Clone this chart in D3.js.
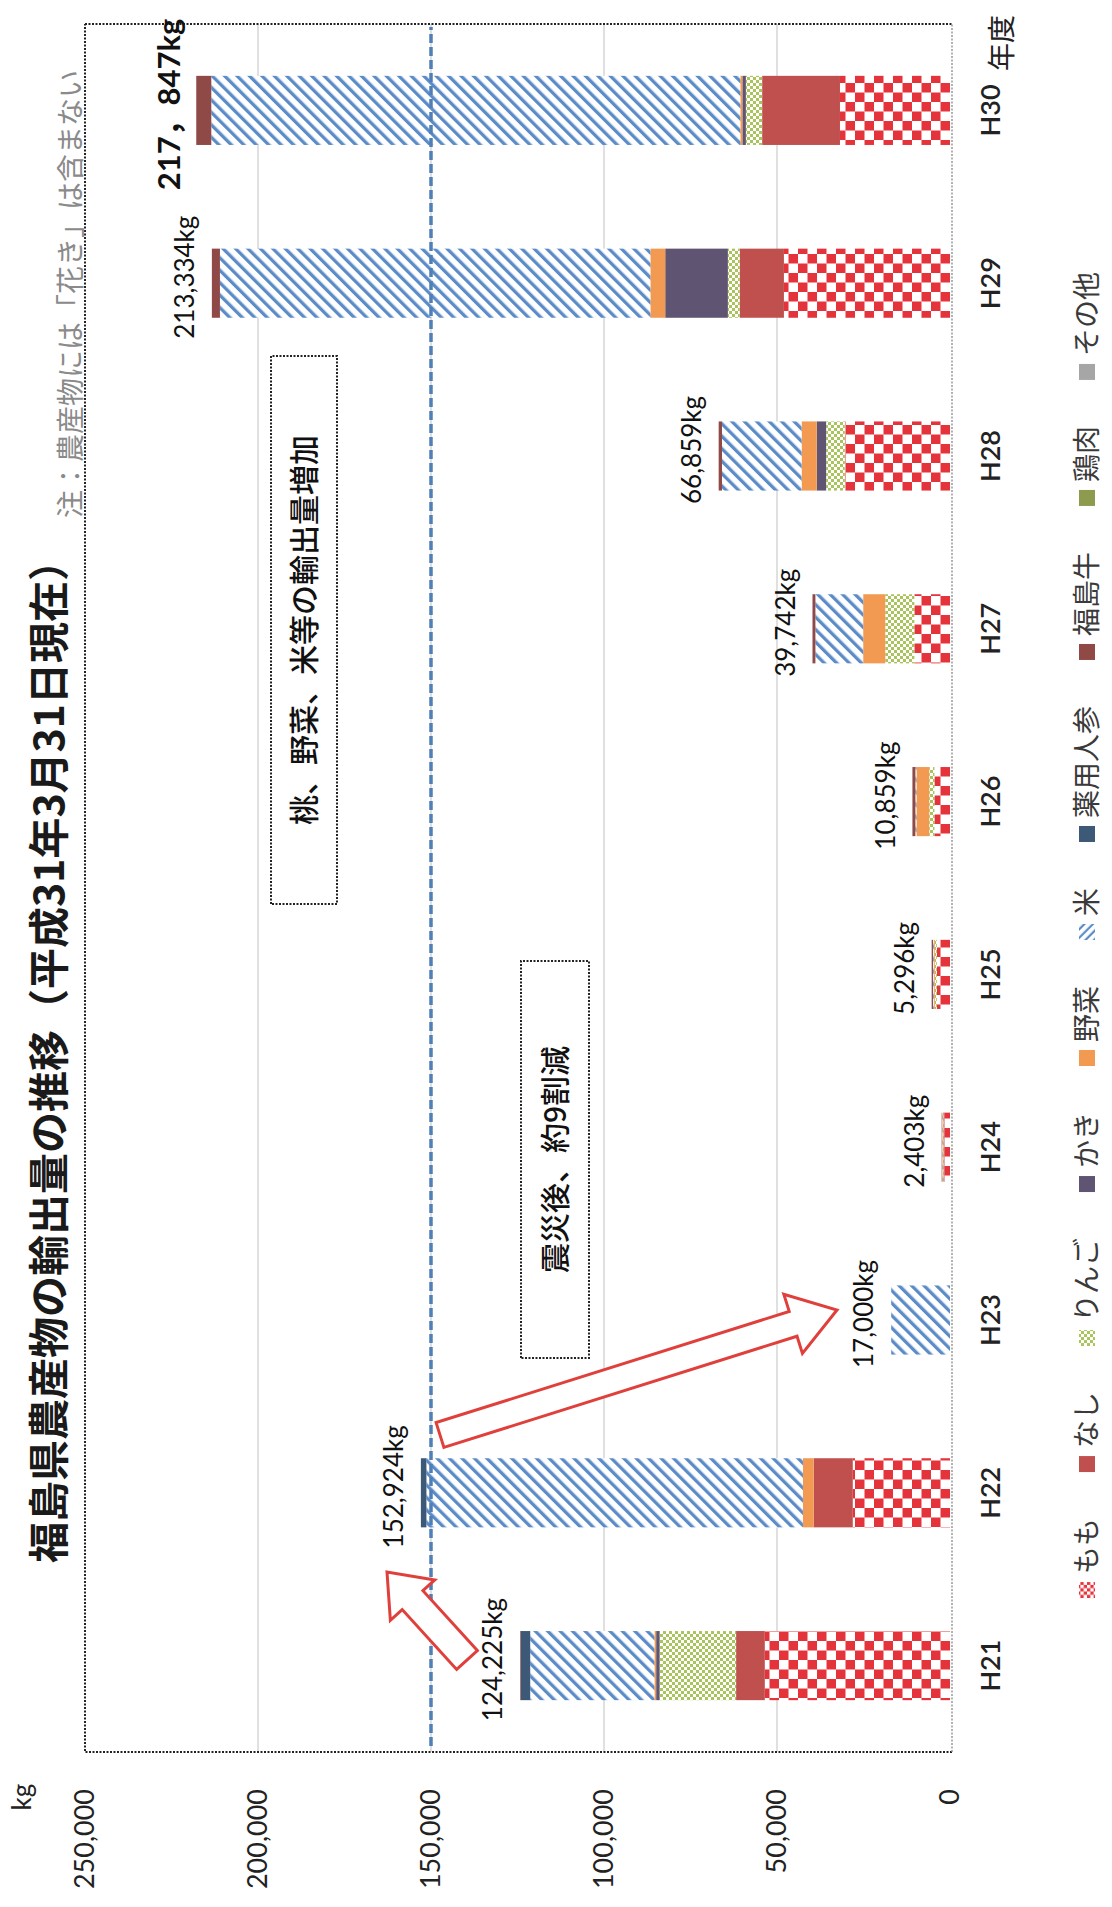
<!DOCTYPE html>
<html><head><meta charset="utf-8">
<script src="https://cdn.jsdelivr.net/npm/d3@7"></script>
<style>body{margin:0;background:#fff}svg{display:block}</style>
</head><body>
<svg id="c" width="1112" height="1907"></svg>
<script>
// ---- data ----
const years = ["H21","H22","H23","H24","H25","H26","H27","H28","H29","H30"];
const seriesNames = ["もも","なし","りんご","かき","野菜","米","薬用人参","福島牛","鶏肉","その他"];
const momo   = [53525, 28100,     0, 1600, 3800, 4500, 10300, 30400,  48000,  31800];
const nashi  = [ 8300, 11300,     0,  300,    0,    0,     0,     0,  12800,  22500];
const ringo  = [22100,     0,     0,  100,  600, 1500,  8400,  5400,   3400,   4700];
const kaki   = [ 1000,     0,     0,    0,    0,    0,     0,  2700,  18100,   1000];
const yasai  = [  500,  3100,     0,  200,  300, 3700,  6400,  4400,   4300,    600];
const kome   = [35900,108824, 17000,  100,  200,  300, 13800, 23000, 124400, 152900];
const ninjin = [ 2700,  1600,     0,    0,    0,    0,     0,     0,      0,      0];
const gyu    = [  200,     0,     0,  103,  396,  859,   842,   959,   2334,   4347];
const tori   = [    0,     0,     0,    0,    0,    0,     0,     0,      0,      0];
const sonota = [    0,     0,     0,    0,    0,    0,     0,     0,      0,      0];
const totalLabels = ["124,225kg","152,924kg","17,000kg","2,403kg","5,296kg","10,859kg","39,742kg","66,859kg","213,334kg","217，847kg"];
const valueTicks = [0, 50000, 100000, 150000, 200000, 250000];
const refValue = 150000;
const titleText = "福島県農産物の輸出量の推移（平成31年3月31日現在）";
const noteText = "注：農産物には「花き」は含まない";
const note1 = "桃、野菜、米等の輸出量増加";
const note2 = "震災後、約9割減";

const seriesValues = [momo,nashi,ringo,kaki,yasai,kome,ninjin,gyu,tori,sonota];
const rows = years.map((yr,i)=>{const o={year:yr}; seriesNames.forEach((s,k)=>o[s]=seriesValues[k][i]); return o;});

// ---- layout (drawn landscape, rotated -90deg onto the portrait page) ----
const W = 1907, H = 1112;
const svg = d3.select("#c");
const defs = svg.append("defs");
const g = svg.append("g").attr("transform",`translate(0,${W}) rotate(-90)`);

function checker(id, cell, color){
  const p = defs.append("pattern").attr("id",id).attr("patternUnits","userSpaceOnUse").attr("width",cell*2).attr("height",cell*2);
  p.append("rect").attr("width",cell*2).attr("height",cell*2).attr("fill","#fff");
  p.append("rect").attr("width",cell).attr("height",cell).attr("fill",color);
  p.append("rect").attr("x",cell).attr("y",cell).attr("width",cell).attr("height",cell).attr("fill",color);
}
function stripes(id, period, w, color, angle){
  const p = defs.append("pattern").attr("id",id).attr("patternUnits","userSpaceOnUse").attr("width",period).attr("height",period).attr("patternTransform",`rotate(${angle})`);
  p.append("rect").attr("width",period).attr("height",period).attr("fill","#fff");
  p.append("rect").attr("width",w).attr("height",period).attr("fill",color);
}
checker("pMomo", 9.5, "#e5333b");
checker("pMomoLeg", 3.3, "#e5333b");
checker("pRingo", 3, "#a9c45c");
stripes("pKome", 8.8, 3.3, "#5b8cc8", 45);
stripes("pKomeLeg", 6, 2.2, "#5b8cc8", -45);

const fills = ["url(#pMomo)","#c0504d","url(#pRingo)","#5f5472","#f39a52","url(#pKome)","#3c5a78","#8f4a47","#8d9b4f","#a6a6a6"];
const legFills = ["url(#pMomoLeg)","#c0504d","url(#pRingo)","#5f5472","#f39a52","url(#pKomeLeg)","#3c5a78","#8f4a47","#8d9b4f","#a6a6a6"];

const x0 = 155, x1 = 1883;
const x = d3.scaleBand().domain(years).range([x0,x1]).paddingInner(0.6).paddingOuter(0.3);
const y = d3.scaleLinear().domain([0,250000]).range([950,85]);
const num = "Lato, 'Noto Sans CJK JP', sans-serif";
const jp = "'Noto Sans CJK JP', sans-serif";

// gridlines
g.append("g").selectAll("line").data(valueTicks.filter(v=>v>0 && v<250000)).join("line")
  .attr("x1",x0).attr("x2",x1).attr("y1",d=>y(d)).attr("y2",d=>y(d))
  .attr("stroke","#d6d6d6").attr("stroke-width",1.5);

// stacked bars
const stack = d3.stack().keys(seriesNames)(rows);
g.append("g").selectAll("g").data(stack).join("g").attr("fill",(d,i)=>fills[i])
  .selectAll("rect").data(d=>d).join("rect")
  .attr("x",d=>x(d.data.year)).attr("width",x.bandwidth())
  .attr("y",d=>y(d[1])).attr("height",d=>Math.max(0,y(d[0])-y(d[1])));

// reference dashed line
g.append("line").attr("x1",x0+6).attr("x2",x1-3).attr("y1",y(refValue)).attr("y2",y(refValue))
  .attr("stroke","#4f7fb6").attr("stroke-width",3.5).attr("stroke-dasharray","9,4");

// frame
const fr = g.append("g").attr("fill","none").attr("stroke-width",2);
fr.append("path").attr("d",`M${x0},952 V${y(250000)} H${x1}`).attr("stroke","#222").attr("stroke-dasharray","2,1.5");
fr.append("path").attr("d",`M${x1},${y(250000)} V952`).attr("stroke","#222").attr("stroke-dasharray","2,1.5");
fr.append("path").attr("d",`M${x0},952 H${x1}`).attr("stroke","#999").attr("stroke-dasharray","2,1.5").attr("stroke-width",1.5);

// value axis
const ya = g.append("g").attr("transform","translate(118,0)")
  .call(d3.axisLeft(y).tickValues(valueTicks).tickFormat(d3.format(",")).tickSize(0).tickPadding(0));
ya.select(".domain").remove();
ya.selectAll("text").attr("font-family",num).attr("font-size",27).attr("fill","#222");
g.append("text").attr("x",110).attr("y",22).attr("dy","0.35em").attr("text-anchor","middle")
  .attr("font-family",num).attr("font-size",26).attr("fill","#222").text("kg");

// category axis
const xa = g.append("g").attr("transform","translate(0,990)")
  .call(d3.axisBottom(x).tickSize(0).tickPadding(0));
xa.select(".domain").remove();
xa.selectAll("text").attr("y",0).attr("dy","0.36em").attr("font-family",num).attr("font-size",27).attr("font-weight",600).attr("fill","#222");
g.append("text").attr("x",1864).attr("y",1001).attr("dy","0.38em").attr("text-anchor","middle")
  .attr("font-family",jp).attr("font-size",28).attr("fill","#222").text("年度");

// total labels
const totals = rows.map(r=>d3.sum(seriesNames,s=>r[s]));
g.append("g").selectAll("text").data(years).join("text")
  .attr("x",d=>x(d)+x.bandwidth()/2+6).attr("y",(d,i)=>y(totals[i])-27).attr("dy","0.35em")
  .attr("text-anchor","middle").attr("font-family",num)
  .attr("font-size",(d,i)=>i===9?31:26).attr("font-weight",(d,i)=>i===9?700:400).attr("fill","#111")
  .text((d,i)=>totalLabels[i]);

// title & note
g.append("text").attr("x",344).attr("y",64).attr("font-family",jp).attr("font-size",41).attr("font-weight",700).attr("fill","#1a1a1a").text(titleText);
g.append("text").attr("x",1389).attr("y",81).attr("font-family",jp).attr("font-size",28).attr("fill","#8a8a8a").text(noteText);

// annotation boxes
function box(xa,xb,ya,yb,txt){
  g.append("rect").attr("x",xa).attr("y",ya).attr("width",xb-xa).attr("height",yb-ya)
    .attr("fill","#fff").attr("stroke","#222").attr("stroke-width",2).attr("stroke-dasharray","2,1.5");
  g.append("text").attr("x",(xa+xb)/2).attr("y",(ya+yb)/2).attr("dy","0.36em").attr("text-anchor","middle")
    .attr("font-family",jp).attr("font-size",30).attr("font-weight",500).attr("fill","#111").text(txt);
}
box(1003,1551,271,337,note1);
box(549,946,521,589,note2);

// arrows
function arrow(ax,ay,bx,by,sw,hw,hl){
  const dx=bx-ax, dy=by-ay, L=Math.hypot(dx,dy), ux=dx/L, uy=dy/L, px=-uy, py=ux;
  const hx=bx-ux*hl, hy=by-uy*hl;
  const pts=[[ax+px*sw/2,ay+py*sw/2],[hx+px*sw/2,hy+py*sw/2],[hx+px*hw/2,hy+py*hw/2],[bx,by],
             [hx-px*hw/2,hy-py*hw/2],[hx-px*sw/2,hy-py*sw/2],[ax-px*sw/2,ay-py*sw/2]];
  g.append("polygon").attr("points",pts.map(p=>p.join(",")).join(" "))
    .attr("fill","#fff").attr("stroke","#e0403c").attr("stroke-width",3).attr("stroke-linejoin","miter");
}
arrow(472,440,597,837,26,62,46);
arrow(247,467,335,387,28,60,38);

// legend
const leg = g.append("g").attr("transform","translate(0,1087)");
const items = leg.selectAll("g").data(seriesNames).join("g");
items.append("rect").attr("width",16).attr("height",16).attr("y",-8).attr("fill",(d,i)=>legFills[i]);
items.append("text").attr("x",24).attr("dy","0.36em").attr("font-family",jp).attr("font-size",28).attr("fill","#3a3a3a").text(d=>d);
let widths=[]; items.each(function(){widths.push(this.getBBox().width);});
const gap=46, total=d3.sum(widths)+gap*(widths.length-1);
let cx=972-total/2;
items.attr("transform",(d,i)=>{const t=`translate(${cx},0)`; cx+=widths[i]+gap; return t;});
</script>
</body></html>
